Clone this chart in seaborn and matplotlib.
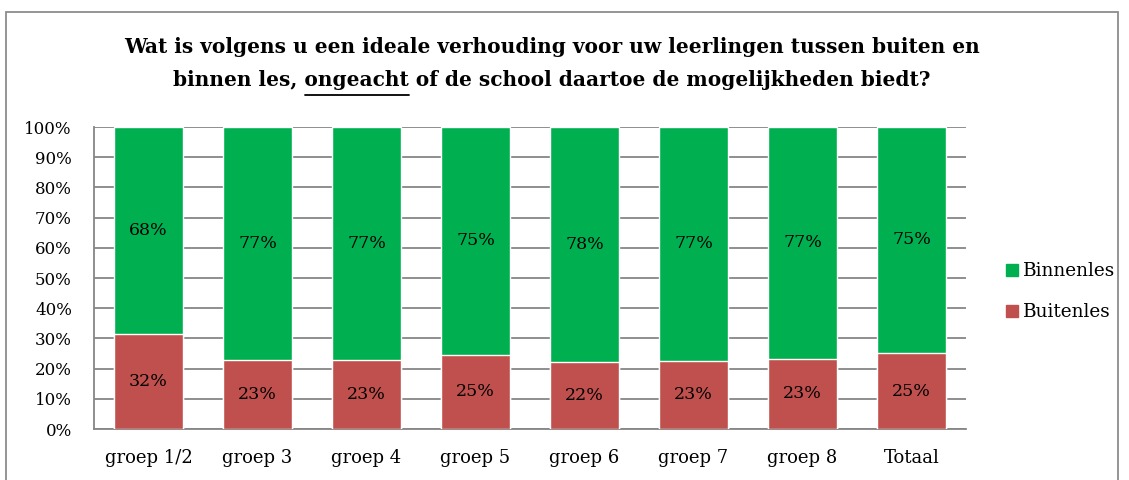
import numpy as np
import pandas as pd
import matplotlib
matplotlib.use("Agg")
import matplotlib.pyplot as plt
import seaborn as sns
from matplotlib.patches import Patch, Rectangle
from matplotlib.lines import Line2D

# Data
groepen = ["groep 1/2", "groep 3", "groep 4", "groep 5", "groep 6", "groep 7", "groep 8", "Totaal"]
buitenles = [31.6, 23.0, 23.0, 24.6, 22.2, 22.6, 23.3, 25.2]
binnenles = [68.4, 77.0, 77.0, 75.4, 77.8, 77.4, 76.7, 74.8]
yticks = [0, 10, 20, 30, 40, 50, 60, 70, 80, 90, 100]

df = pd.DataFrame({"groep": groepen, "Buitenles": buitenles, "Binnenles": binnenles})
df["totaal"] = df["Buitenles"] + df["Binnenles"]

GREEN = "#00B050"
RED = "#C0504D"
GRID = "#868686"

sns.set_style("white")
plt.rcParams["font.family"] = ["DejaVu Serif"]
plt.rcParams["text.color"] = "black"
plt.rcParams["xtick.color"] = "black"
plt.rcParams["ytick.color"] = "black"

fig = plt.figure(figsize=(11.29, 4.8), dpi=100)
ax = fig.add_axes([0.0833, 0.106, 0.7723, 0.6294])

# stacked bars: full height green first, red on top of it
sns.barplot(data=df, x="groep", y="totaal", color=GREEN, width=0.64, saturation=1, ax=ax, zorder=3)
sns.barplot(data=df, x="groep", y="Buitenles", color=RED, width=0.64, saturation=1, ax=ax, zorder=3)

# value labels centred in each segment
for i, (b, n) in enumerate(zip(buitenles, binnenles)):
    ax.text(i, b / 2, f"{b:.0f}%", ha="center", va="center", fontsize=12.5, zorder=4)
    ax.text(i, b + n / 2, f"{n:.0f}%", ha="center", va="center", fontsize=12.5, zorder=4)

ax.set_ylim(0, 100)
ax.set_xlim(-0.5, len(groepen) - 0.5)
ax.set_yticks(yticks)
ax.set_yticklabels([f"{t}%" for t in yticks])
ax.yaxis.grid(True, color=GRID, linewidth=1.3, zorder=0)
ax.set_axisbelow(True)
ax.set_xlabel("")
ax.set_ylabel("")
ax.tick_params(axis="y", length=0, pad=16, labelsize=12)
ax.tick_params(axis="x", length=0, pad=14, labelsize=13)
for s in ["top", "right"]:
    ax.spines[s].set_visible(False)
for s in ["left", "bottom"]:
    ax.spines[s].set_color(GRID)
    ax.spines[s].set_linewidth(1.3)

# legend
handles = [Patch(color=GREEN, label="Binnenles"), Patch(color=RED, label="Buitenles")]
fig.legend(handles=handles, loc="center left", bbox_to_anchor=(0.876, 0.392), frameon=False,
           fontsize=13.3, handlelength=0.65, handleheight=0.65, handletextpad=0.3, labelspacing=1.25)

# title, two lines with "ongeacht" underlined
tx = 552 / 1129
fig.text(tx, 1 - 47 / 480, "Wat is volgens u een ideale verhouding voor uw leerlingen tussen buiten en",
         ha="center", va="center", fontsize=14.5, fontweight="bold")
line2 = "binnen les, ongeacht of de school daartoe de mogelijkheden biedt?"
t2 = fig.text(tx, 1 - 80 / 480, line2, ha="center", va="center", fontsize=14.5, fontweight="bold")

fig.canvas.draw()
r = fig.canvas.get_renderer()
bb = t2.get_window_extent(r)
tmp = fig.text(0, 0, "binnen les, ongeacht", fontsize=14.5, fontweight="bold")
w_upto = tmp.get_window_extent(r).width
tmp.set_text("ongeacht")
w_word = tmp.get_window_extent(r).width
tmp.remove()
x1 = (bb.x0 + w_upto) / fig.bbox.width
x0 = (bb.x0 + w_upto - w_word) / fig.bbox.width
uy = 1 - 95 / 480
fig.add_artist(Line2D([x0, x1], [uy, uy], color="black", linewidth=1.3))

# outer chart border
fig.add_artist(Rectangle((6 / 1129, -0.05), 1112 / 1129, 1.05 - 12 / 480, transform=fig.transFigure,
                         fill=False, edgecolor="#8c8c8c", linewidth=1.3))

fig.savefig("out.png", dpi=100)
